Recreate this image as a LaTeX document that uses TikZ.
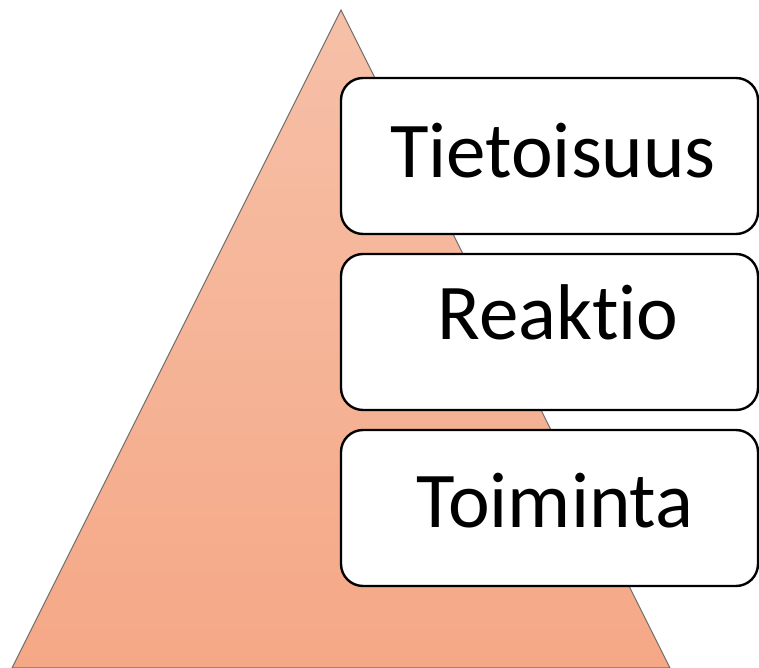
\documentclass[tikz,border=0pt]{standalone}
\usepackage{fontspec}
\setmainfont{Carlito}[Ligatures=NoCommon]
\definecolor{tritop}{RGB}{246,192,168}
\definecolor{tribot}{RGB}{245,168,134}
\definecolor{triline}{RGB}{110,110,110}
\tikzset{
  levelbox/.style={draw=black, line width=2.4pt, fill=white, rounded corners=22pt},
  leveltext/.style={font=\fontsize{79}{90}\selectfont, anchor=base, inner sep=0pt}
}
\begin{document}
\begin{tikzpicture}[x=1pt,y=1pt]
\useasboundingbox (0,0) rectangle (759,668);
\coordinate (apex) at (341,658);
\coordinate (bl) at (12,0);
\coordinate (br) at (670,0);
\shade[top color=tritop, bottom color=tribot, draw=triline, line width=1pt] (apex) -- (br) -- (bl) -- cycle;
\draw[levelbox] (341,434) rectangle (758,590);
\draw[levelbox] (341,258) rectangle (758,414);
\draw[levelbox] (341,82) rectangle (758,238);
\node[leveltext] (t1) at (553,490) {Tietoisuus};
\node[leveltext] (t2) at (558,328) {Reakt\kern0pt io};
\node[leveltext] (t3) at (555,140) {Toiminta};
\end{tikzpicture}
\end{document}
